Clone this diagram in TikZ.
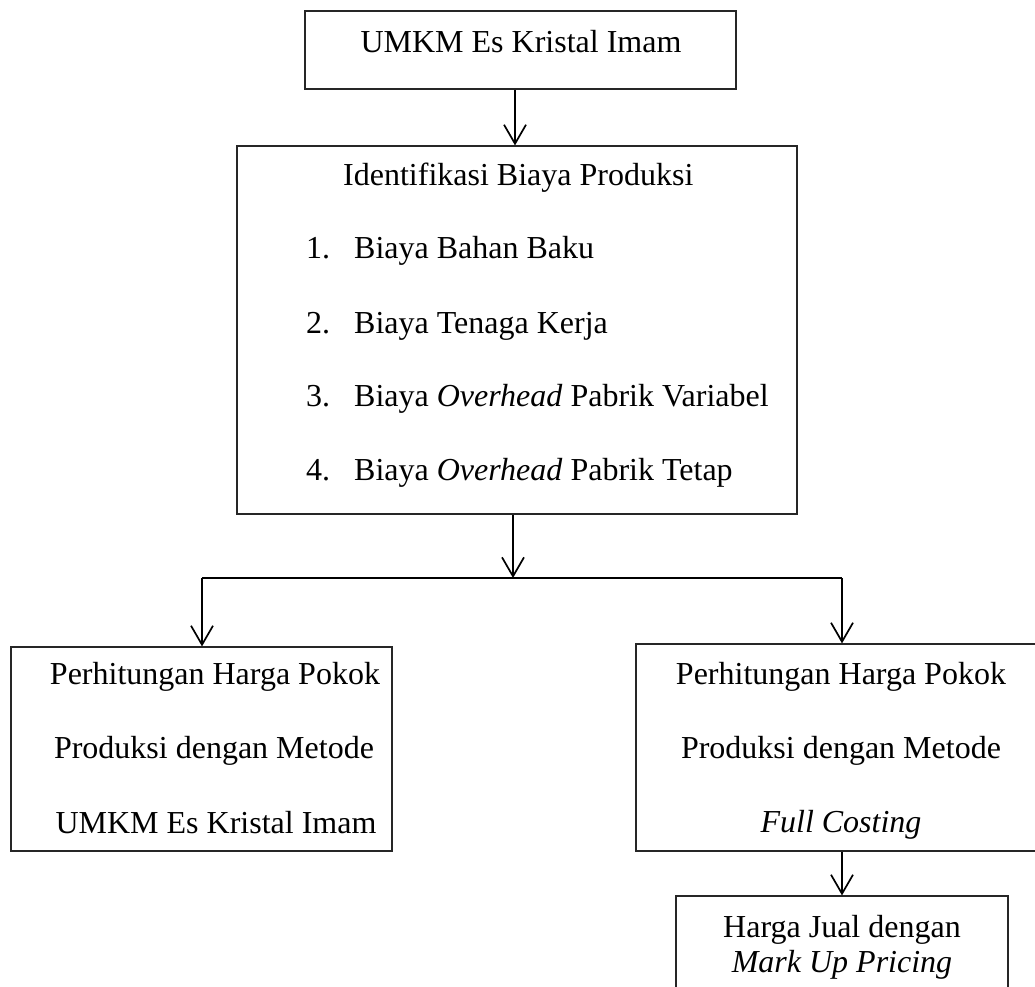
\documentclass[tikz,border=0pt]{standalone}
\usepackage{fontspec}
\setmainfont{Liberation Serif}
\usetikzlibrary{arrows.meta}
\tikzset{
  x=1pt,y=-1pt,
  box/.style={draw=black!85,line width=1.2pt,inner sep=0pt},
  txt/.style={inner sep=0pt,font=\fontsize{32}{38}\selectfont},
  conn/.style={line width=1.7pt,black},
  arr/.style={conn,-{Straight Barb[length=19pt,width=22pt,line width=1.7pt]}},
}
\begin{document}
\begin{tikzpicture}
\useasboundingbox (0,0) rectangle (1035,986);
\clip (0,0) rectangle (1035,986);
% boxes
\node[box,minimum width=431pt,minimum height=78pt] (top) at (520.5,50) {};
\node[box,minimum width=560pt,minimum height=368pt] (mid) at (517,330) {};
\node[box,minimum width=381pt,minimum height=204pt] (left) at (201.5,749) {};
\node[box,minimum width=410pt,minimum height=207pt] (right) at (841,747.5) {};
\node[box,minimum width=332pt,minimum height=104pt] (bot) at (842,948) {};
% texts
\node[txt,anchor=base] (t1) at (521,52) {UMKM Es Kristal Imam};
\node[txt,anchor=base west] (m0) at (343,185) {Identifikasi Biaya Produksi};
\node[txt,anchor=base west] (n1) at (306,258) {1.};
\node[txt,anchor=base west] (i1) at (354,258) {Biaya Bahan Baku};
\node[txt,anchor=base west] (n2) at (306,333) {2.};
\node[txt,anchor=base west] (i2) at (354,333) {Biaya Tenaga Kerja};
\node[txt,anchor=base west] (n3) at (306,406) {3.};
\node[txt,anchor=base west] (i3) at (354,406) {Biaya \textit{Overhead} Pabrik Variabel};
\node[txt,anchor=base west] (n4) at (306,480) {4.};
\node[txt,anchor=base west] (i4) at (354,480) {Biaya \textit{Overhead} Pabrik Tetap};
\node[txt,anchor=base] (l1) at (215,684) {Perhitungan Harga Pokok};
\node[txt,anchor=base] (l2) at (214,758) {Produksi dengan Metode};
\node[txt,anchor=base] (l3) at (216,833) {UMKM Es Kristal Imam};
\node[txt,anchor=base] (r1) at (841,684) {Perhitungan Harga Pokok};
\node[txt,anchor=base] (r2) at (841,758) {Produksi dengan Metode};
\node[txt,anchor=base] (r3) at (841,832) {\textit{Full Costing}};
\node[txt,anchor=base] (b1) at (842,937) {Harga Jual dengan};
\node[txt,anchor=base] (b2) at (842,972) {\textit{Mark Up Pricing}};
% connectors
\coordinate (a0) at (515,89);
\coordinate (j) at (513,578);
\coordinate (jl) at (202,578);
\coordinate (jr) at (842,578);
\draw[arr] (top.south -| a0) -- (mid.north -| a0);
\draw[arr] (mid.south -| j) -- (j);
\draw[conn] (jl) -- (jr);
\draw[arr] (jl) -- (left.north -| jl);
\draw[arr] (jr) -- (right.north -| jr);
\draw[arr] (right.south -| bot.north) -- (bot.north);
\end{tikzpicture}
\end{document}
